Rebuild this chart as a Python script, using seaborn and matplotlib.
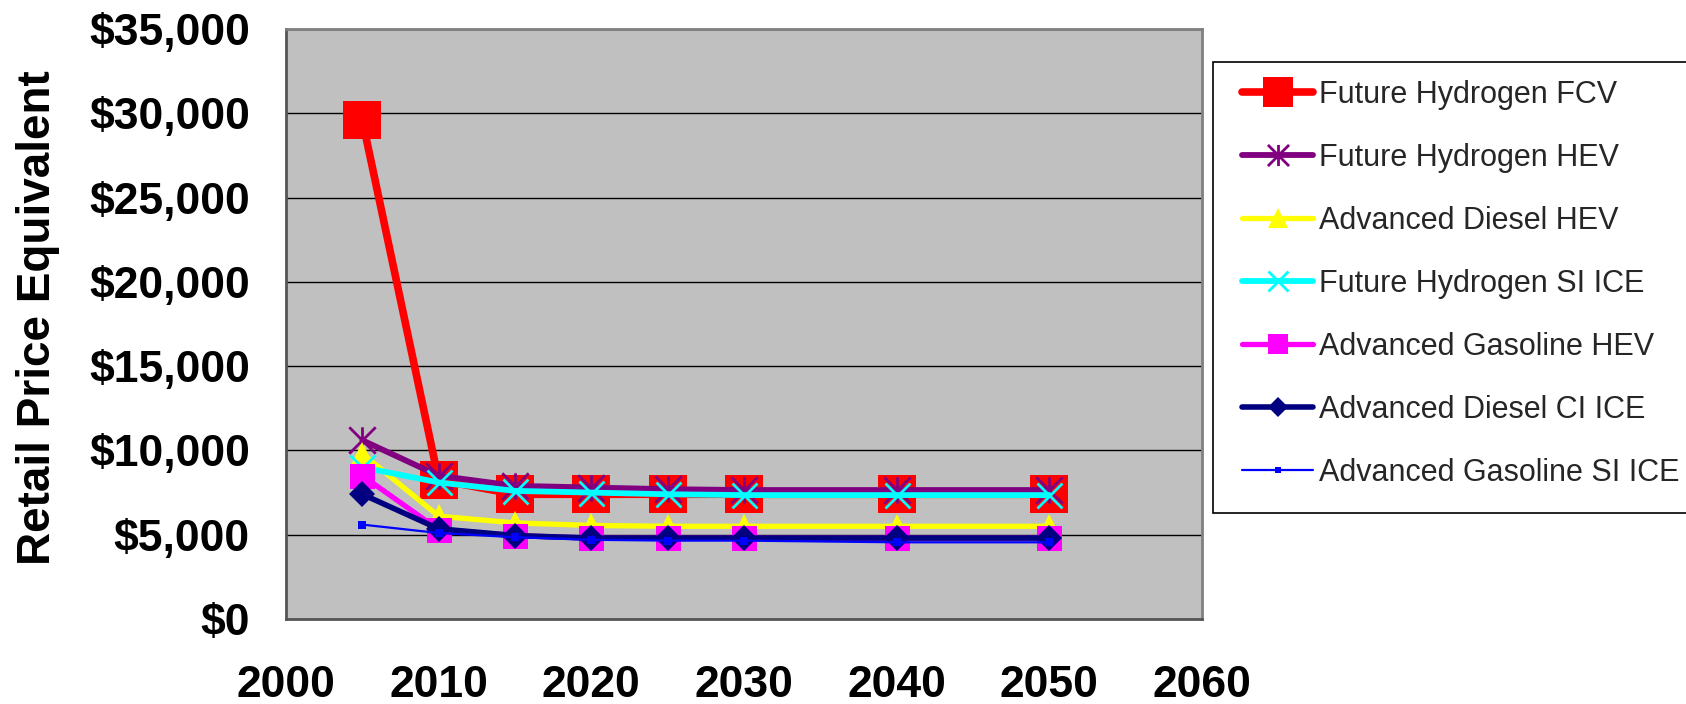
import matplotlib
matplotlib.use("Agg")
import matplotlib.pyplot as plt
import seaborn as sns
import pandas as pd
from matplotlib.path import Path
from matplotlib.patches import Rectangle
from matplotlib.ticker import FuncFormatter

# ---------------- data ----------------
years = [2005, 2010, 2015, 2020, 2025, 2030, 2040, 2050]
series_names = [
    "Future Hydrogen FCV",
    "Future Hydrogen HEV",
    "Advanced Diesel HEV",
    "Future Hydrogen SI ICE",
    "Advanced Gasoline HEV",
    "Advanced Diesel CI ICE",
    "Advanced Gasoline SI ICE",
]
fcv = [29600, 8250, 7400, 7400, 7400, 7400, 7400, 7400]
h2_hev = [10600, 8500, 7900, 7800, 7700, 7650, 7650, 7650]
diesel_hev = [9800, 6100, 5700, 5550, 5500, 5500, 5500, 5500]
h2_si_ice = [9000, 8100, 7600, 7500, 7400, 7350, 7350, 7350]
gas_hev = [8500, 5300, 4950, 4800, 4800, 4800, 4800, 4800]
diesel_ci_ice = [7400, 5350, 4950, 4800, 4800, 4800, 4800, 4800]
gas_si_ice = [5600, 5100, 4850, 4700, 4650, 4650, 4550, 4550]
y_ticks = [0, 5000, 10000, 15000, 20000, 25000, 30000, 35000]
x_ticks = [2000, 2010, 2020, 2030, 2040, 2050, 2060]
y_label = "Retail Price Equivalent"

all_values = [fcv, h2_hev, diesel_hev, h2_si_ice, gas_hev, diesel_ci_ice, gas_si_ice]

# ---------------- styles ----------------
star = Path([(0, -1), (0, 1), (-1, -1), (1, 1), (-1, 1), (1, -1)],
            [Path.MOVETO, Path.LINETO] * 3)
styles = [
    dict(color="#FF0000", marker="s", ms=27, lw=5.5, mew=0),
    dict(color="#800080", marker=star, ms=19, lw=4.2, mew=2.0),
    dict(color="#FFFF00", marker="^", ms=18, lw=3.8, mew=0),
    dict(color="#00FFFF", marker="x", ms=18, lw=4.2, mew=2.0),
    dict(color="#FF00FF", marker="s", ms=18, lw=3.8, mew=0),
    dict(color="#000080", marker="D", ms=13, lw=4.0, mew=0),
    dict(color="#0000FF", marker="s", ms=6, lw=1.6, mew=0),
]

sns.set_style("white")
plt.rcParams["font.family"] = ["Liberation Sans", "DejaVu Sans"]

W, H = 1686, 704
fig = plt.figure(figsize=(W / 100, H / 100), dpi=100)
ax = fig.add_axes([286 / W, 1 - 619 / H, (1202 - 286) / W, (619 - 29) / H])
ax.set_facecolor("#C0C0C0")

for name, vals, st in zip(series_names, all_values, styles):
    df = pd.DataFrame({"year": years, "price": vals})
    sns.lineplot(data=df, x="year", y="price", ax=ax, color=st["color"],
                 marker=st["marker"], markersize=st["ms"], linewidth=st["lw"],
                 markeredgecolor=st["color"], markerfacecolor=st["color"],
                 markeredgewidth=st["mew"], label=name, legend=False)

ax.set_xlim(2000, 2060)
ax.set_ylim(0, 35000)
ax.set_xticks(x_ticks)
ax.set_yticks(y_ticks)
ax.yaxis.set_major_formatter(FuncFormatter(lambda v, p: "${:,.0f}".format(v)))
ax.yaxis.grid(True, color="black", linewidth=1.0)
ax.xaxis.grid(False)
ax.set_axisbelow(True)

for side in ["top", "right"]:
    ax.spines[side].set_color("#808080")
    ax.spines[side].set_linewidth(2.0)
for side in ["left", "bottom"]:
    ax.spines[side].set_color("#555555")
    ax.spines[side].set_linewidth(2.0)

ax.tick_params(axis="both", which="major", direction="out", length=10,
               width=1.2, color="black", labelsize=32, labelcolor="black")
ax.tick_params(axis="y", pad=16)
ax.tick_params(axis="x", pad=23)
for lab in ax.get_xticklabels() + ax.get_yticklabels():
    lab.set_fontweight("bold")

ax.set_xlabel("")
ax.set_ylabel(y_label, fontsize=33, fontweight="bold", color="black")
ax.yaxis.set_label_coords((60 - 286) / (1202 - 286), (619 - 318) / (619 - 29))

# legend
handles, labels = ax.get_legend_handles_labels()
leg = fig.legend(handles, labels, loc="upper left",
                 bbox_to_anchor=(1242 / W, 1 - 80 / H),
                 frameon=False, borderpad=0, borderaxespad=0,
                 prop={"family": "Liberation Sans", "size": 22},
                 labelspacing=1.08, handlelength=2.33, handletextpad=0.2,
                 markerscale=0.8)
fig.patches.append(Rectangle((1213 / W, 1 - 513 / H), (1800 - 1213) / W,
                             (513 - 62) / H, transform=fig.transFigure,
                             facecolor="white", edgecolor="black",
                             linewidth=1.2, zorder=0))

fig.savefig("out.png", dpi=100, facecolor="white")
